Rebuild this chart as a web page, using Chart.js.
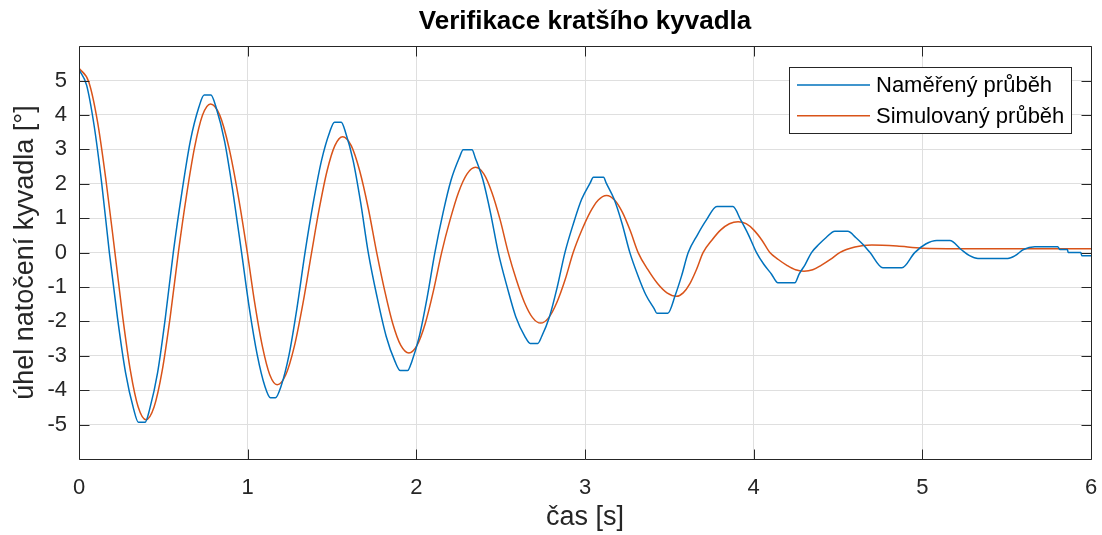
<!DOCTYPE html>
<html>
<head>
<meta charset="utf-8">
<title>Verifikace kratšího kyvadla</title>
<script src="https://cdn.jsdelivr.net/npm/chart.js@4.4.1/dist/chart.umd.min.js"></script>
<style>
    html, body { margin: 0; padding: 0; background: #ffffff; }
    #wrap { width: 1102px; height: 535px; }
</style>
</head>
<body>
<div id="wrap"><canvas id="kyvadlo-chart" width="1102" height="535"></canvas></div>
<script>
// Data
const xTicks = [0, 1, 2, 3, 4, 5, 6];
const yTicks = [-5, -4, -3, -2, -1, 0, 1, 2, 3, 4, 5];

const seriesLabels = ['Naměřený průběh', 'Simulovaný průběh'];

// measured (encoder) response, time [s] and angle [deg]
const measuredTime = [
    0, 0.045, 0.09, 0.135, 0.18,
    0.228, 0.276, 0.324, 0.352, 0.392, 0.419, 0.466, 0.512, 0.559,
    0.61, 0.66, 0.711, 0.742, 0.782, 0.812, 0.863, 0.913, 0.964,
    1.01, 1.057, 1.103, 1.135, 1.165, 1.197, 1.245, 1.292, 1.34,
    1.389, 1.438, 1.486, 1.515, 1.555, 1.58, 1.625, 1.67, 1.715,
    1.768, 1.821, 1.874, 1.905, 1.948, 1.973, 2.018, 2.064, 2.11,
    2.158, 2.206, 2.255, 2.278, 2.33, 2.349, 2.395, 2.44, 2.486,
    2.539, 2.59, 2.644, 2.675, 2.72, 2.743, 2.789, 2.835, 2.881,
    2.931, 2.98, 3.03, 3.05, 3.11, 3.126, 3.173, 3.22, 3.266,
    3.314, 3.362, 3.41, 3.426, 3.491, 3.535, 3.573, 3.612,
    3.666, 3.72, 3.782, 3.877, 3.923, 3.97, 4.017,
    4.06, 4.105, 4.144, 4.244, 4.27, 4.306, 4.343,
    4.387, 4.43, 4.481, 4.558, 4.605, 4.647, 4.69,
    4.766, 4.879, 4.955,
    5.02, 5.086, 5.163, 5.23, 5.28, 5.33, 5.507, 5.55, 5.6,
    5.667, 5.803, 5.815, 5.86, 5.865, 5.94, 5.945, 6.0
];
const measuredAngle = [
    5.32, 4.87, 3.68, 2.0, 0,
    -1.89, -3.49, -4.55, -4.93, -4.93, -4.55, -3.49, -1.89, 0,
    1.75, 3.24, 4.23, 4.58, 4.58, 4.23, 3.24, 1.75, 0,
    -1.62, -2.98, -3.9, -4.22, -4.22, -3.9, -2.98, -1.62, 0,
    1.45, 2.68, 3.5, 3.79, 3.79, 3.5, 2.68, 1.45, 0,
    -1.31, -2.43, -3.17, -3.43, -3.43, -3.17, -2.43, -1.31, 0,
    1.15, 2.11, 2.76, 2.99, 2.99, 2.76, 2.11, 1.15, 0,
    -1.01, -1.87, -2.44, -2.64, -2.64, -2.44, -1.87, -1.01, 0,
    0.84, 1.55, 2.02, 2.19, 2.19, 2.02, 1.55, 0.84, 0,
    -0.67, -1.24, -1.63, -1.76, -1.76, -1.24, -0.67, 0,
    0.51, 0.95, 1.34, 1.34, 0.95, 0.51, 0,
    -0.34, -0.62, -0.88, -0.88, -0.62, -0.34, 0,
    0.24, 0.44, 0.62, 0.62, 0.44, 0.24, 0,
    -0.44, -0.44, 0,
    0.25, 0.35, 0.35, 0.09, -0.09, -0.17, -0.17, -0.09, 0.09,
    0.17, 0.17, 0.09, 0.09, 0, 0, -0.09, -0.09
];

// simulated model response
const simTime = [
    0, 0.058, 0.11, 0.161, 0.213,
    0.259, 0.305, 0.351, 0.397, 0.445, 0.493, 0.541, 0.589,
    0.637, 0.685, 0.732, 0.78, 0.835, 0.889, 0.944, 0.998,
    1.042, 1.087, 1.131, 1.175, 1.226, 1.277, 1.328, 1.379,
    1.425, 1.471, 1.517, 1.563, 1.614, 1.664, 1.715, 1.765,
    1.813, 1.86, 1.908, 1.956, 2.004, 2.053, 2.101, 2.15,
    2.2, 2.25, 2.301, 2.351, 2.4, 2.448, 2.497, 2.545,
    2.593, 2.641, 2.689, 2.737, 2.785, 2.833, 2.882, 2.93,
    2.98, 3.03, 3.079, 3.128, 3.175, 3.222, 3.268, 3.315,
    3.372, 3.43, 3.486, 3.543, 3.582, 3.622, 3.661, 3.70,
    3.752, 3.805, 3.856, 3.908, 3.955, 4.0, 4.049, 4.096,
    4.146, 4.197, 4.248, 4.298, 4.35, 4.40, 4.455, 4.51,
    4.60, 4.70, 4.85, 5.0, 5.5, 6.0
];
const simAngle = [
    5.36, 4.96, 3.8, 2.06, 0,
    -1.86, -3.44, -4.49, -4.86, -4.49, -3.44, -1.86, 0,
    1.65, 3.05, 3.99, 4.32, 3.99, 3.05, 1.65, 0,
    -1.47, -2.72, -3.55, -3.84, -3.55, -2.72, -1.47, 0,
    1.29, 2.38, 3.11, 3.37, 3.11, 2.38, 1.29, 0,
    -1.12, -2.06, -2.7, -2.92, -2.7, -2.06, -1.12, 0,
    0.95, 1.75, 2.29, 2.48, 2.29, 1.75, 0.95, 0,
    -0.79, -1.45, -1.89, -2.05, -1.89, -1.45, -0.79, 0,
    0.64, 1.17, 1.53, 1.66, 1.53, 1.17, 0.64, 0,
    -0.49, -0.9, -1.17, -1.27, -1.17, -0.9, -0.49, 0,
    0.36, 0.66, 0.84, 0.90, 0.84, 0.66, 0.36, 0,
    -0.2, -0.37, -0.5, -0.54, -0.5, -0.37, -0.2, 0,
    0.16, 0.22, 0.19, 0.13, 0.11, 0.11
];

const FONT = "'Liberation Sans', Arial, Helvetica, sans-serif";
const AXIS_COLOR = '#262626';
const GRID_COLOR = '#dfdfdf';
const colors = ['#0072bd', '#d95319'];

function toPoints(xs, ys) {
    return xs.map((x, i) => ({ x: x, y: ys[i] }));
}

// box around the axes with inward ticks (MATLAB look)
const framePlugin = {
    id: 'frame',
    afterDatasetsDraw(chart) {
        const ctx = chart.ctx;
        const area = chart.chartArea;
        const xs = chart.scales.x;
        const ys = chart.scales.y;
        const L = Math.round(area.left) + 0.5;
        const R = Math.round(area.right) + 0.5;
        const T = Math.round(area.top) + 0.5;
        const B = Math.round(area.bottom) + 0.5;
        const tickLen = 10;
        ctx.save();
        ctx.strokeStyle = AXIS_COLOR;
        ctx.lineWidth = 1;
        ctx.beginPath();
        ctx.rect(L, T, R - L, B - T);
        xTicks.forEach(v => {
            const px = Math.round(xs.getPixelForValue(v)) + 0.5;
            ctx.moveTo(px, B);
            ctx.lineTo(px, B - tickLen);
            ctx.moveTo(px, T);
            ctx.lineTo(px, T + tickLen);
        });
        yTicks.forEach(v => {
            const py = Math.round(ys.getPixelForValue(v)) + 0.5;
            ctx.moveTo(L, py);
            ctx.lineTo(L + tickLen, py);
            ctx.moveTo(R, py);
            ctx.lineTo(R - tickLen, py);
        });
        ctx.stroke();
        ctx.restore();
    }
};

// legend box in the upper right corner of the axes
const legendBoxPlugin = {
    id: 'legendBox',
    afterDraw(chart) {
        const ctx = chart.ctx;
        const boxX = 789.5, boxY = 67.5, boxW = 282, boxH = 66;
        ctx.save();
        ctx.fillStyle = '#ffffff';
        ctx.fillRect(boxX, boxY, boxW, boxH);
        ctx.strokeStyle = AXIS_COLOR;
        ctx.lineWidth = 1;
        ctx.strokeRect(boxX, boxY, boxW, boxH);
        chart.data.datasets.forEach((ds, i) => {
            const y = 85 + i * 30.7;
            ctx.strokeStyle = ds.borderColor;
            ctx.lineWidth = 1.5;
            ctx.beginPath();
            ctx.moveTo(797, y);
            ctx.lineTo(870, y);
            ctx.stroke();
            ctx.fillStyle = '#000000';
            ctx.font = '22px ' + FONT;
            ctx.textAlign = 'left';
            ctx.textBaseline = 'middle';
            ctx.fillText(ds.label, 876, y + 1);
        });
        ctx.restore();
    }
};

const chart = new Chart(document.getElementById('kyvadlo-chart'), {
    type: 'line',
    data: {
        datasets: [
            {
                label: seriesLabels[0],
                data: toPoints(measuredTime, measuredAngle),
                borderColor: colors[0],
                borderWidth: 1.5,
                pointRadius: 0,
                cubicInterpolationMode: 'monotone',
                fill: false
            },
            {
                label: seriesLabels[1],
                data: toPoints(simTime, simAngle),
                borderColor: colors[1],
                borderWidth: 1.5,
                pointRadius: 0,
                cubicInterpolationMode: 'monotone',
                fill: false
            }
        ]
    },
    options: {
        responsive: false,
        animation: false,
        layout: { padding: { left: 0, right: 11, top: 0, bottom: 0 } },
        plugins: {
            legend: { display: false },
            tooltip: { enabled: false },
            title: {
                display: true,
                text: 'Verifikace kratšího kyvadla',
                fullSize: false,
                color: '#000000',
                font: { family: FONT, size: 26, weight: 'bold' },
                padding: { top: 6, bottom: 9 }
            }
        },
        scales: {
            x: {
                type: 'linear',
                min: 0,
                max: 6,
                afterBuildTicks: s => { s.ticks = xTicks.map(v => ({ value: v })); },
                afterFit: s => {
                    s.height = 76;
                    s.paddingLeft = 0;
                    s.paddingRight = 0;
                },
                grid: { color: GRID_COLOR, lineWidth: 1, drawTicks: false },
                border: { display: false },
                ticks: {
                    padding: 16,
                    color: AXIS_COLOR,
                    autoSkip: false,
                    maxRotation: 0,
                    font: { family: FONT, size: 22 }
                },
                title: {
                    display: true,
                    text: 'čas [s]',
                    color: AXIS_COLOR,
                    font: { family: FONT, size: 27 },
                    padding: { top: 0, bottom: 1 }
                }
            },
            y: {
                type: 'linear',
                min: -6,
                max: 6,
                afterBuildTicks: s => { s.ticks = yTicks.map(v => ({ value: v })); },
                afterFit: s => { s.width = 79; },
                grid: { color: GRID_COLOR, lineWidth: 1, drawTicks: false },
                border: { display: false },
                ticks: {
                    padding: 12,
                    color: AXIS_COLOR,
                    font: { family: FONT, size: 22 }
                },
                title: {
                    display: true,
                    text: 'úhel natočení kyvadla [°]',
                    color: AXIS_COLOR,
                    font: { family: FONT, size: 27 },
                    padding: { top: 9, bottom: 0 }
                }
            }
        }
    },
    plugins: [framePlugin, legendBoxPlugin]
});
</script>
</body>
</html>
